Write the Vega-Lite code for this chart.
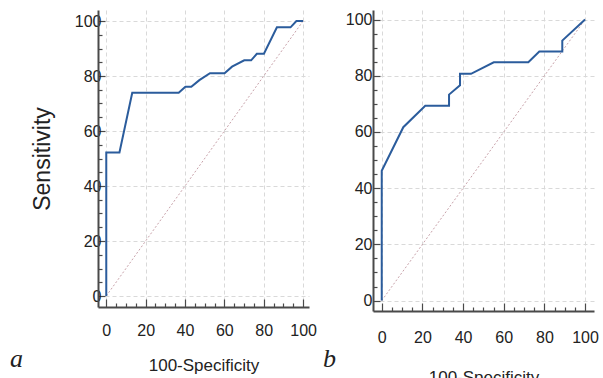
{
  "$schema": "https://vega.github.io/schema/vega-lite/v6.json",
  "background": "white",
  "padding": {"left": 10, "top": 10, "right": 0, "bottom": 0},
  "spacing": 6,
  "datasets": {
    "rocA": [
      {"i": 0, "x": 0, "y": 0}, {"i": 1, "x": 0, "y": 52.2}, {"i": 2, "x": 6.7, "y": 52.2},
      {"i": 3, "x": 13.2, "y": 73.9}, {"i": 4, "x": 36.8, "y": 73.9}, {"i": 5, "x": 40.2, "y": 76.1},
      {"i": 6, "x": 43.2, "y": 76.1}, {"i": 7, "x": 47.3, "y": 78.5}, {"i": 8, "x": 52.7, "y": 81.0},
      {"i": 9, "x": 60.1, "y": 81.0}, {"i": 10, "x": 63.9, "y": 83.4}, {"i": 11, "x": 70.1, "y": 85.7},
      {"i": 12, "x": 73.6, "y": 85.7}, {"i": 13, "x": 76.5, "y": 88.1}, {"i": 14, "x": 80.1, "y": 88.1},
      {"i": 15, "x": 86.7, "y": 97.7}, {"i": 16, "x": 93.6, "y": 97.7}, {"i": 17, "x": 96.6, "y": 100},
      {"i": 18, "x": 100, "y": 100}
    ],
    "rocB": [
      {"i": 0, "x": 0, "y": 0}, {"i": 1, "x": 0, "y": 46.2}, {"i": 2, "x": 10.6, "y": 61.7},
      {"i": 3, "x": 21.4, "y": 69.3}, {"i": 4, "x": 33.1, "y": 69.3}, {"i": 5, "x": 33.1, "y": 73.3},
      {"i": 6, "x": 38.5, "y": 76.6}, {"i": 7, "x": 38.5, "y": 80.7}, {"i": 8, "x": 43.9, "y": 80.7},
      {"i": 9, "x": 55.1, "y": 84.8}, {"i": 10, "x": 72.1, "y": 84.8}, {"i": 11, "x": 77.5, "y": 88.6},
      {"i": 12, "x": 88.8, "y": 88.6}, {"i": 13, "x": 88.8, "y": 92.5}, {"i": 14, "x": 100, "y": 100}
    ],
    "diag": [{"i": 0, "x": 0, "y": 0}, {"i": 1, "x": 100, "y": 100}]
  },
  "hconcat": [
    {
      "width": 211,
      "height": 297,
      "title": {"text": "a", "orient": "bottom", "anchor": "start", "frame": "group", "dx": -88, "offset": -27, "font": "Liberation Serif", "fontStyle": "italic", "fontWeight": "normal", "fontSize": 26, "color": "#222"},
      "encoding": {
        "x": {"field": "x", "type": "quantitative", "scale": {"domain": [-4.2, 103], "nice": false, "zero": false},
          "axis": {"title": "100-Specificity", "values": [0,5,10,15,20,25,30,35,40,45,50,55,60,65,70,75,80,85,90,95,100],
            "labelExpr": "datum.value % 20 === 0 ? datum.label : ''",
            "gridOpacity": {"condition": {"test": "datum.value % 20 === 0", "value": 1}, "value": 0},
            "tickSize": {"condition": {"test": "datum.value % 20 === 0", "value": -8}, "value": -4},
            "labelPadding": 23, "titlePadding": 15}},
        "y": {"field": "y", "type": "quantitative", "scale": {"domain": [-4, 104], "nice": false, "zero": false},
          "axis": {"title": "Sensitivity", "values": [0,5,10,15,20,25,30,35,40,45,50,55,60,65,70,75,80,85,90,95,100],
            "labelExpr": "datum.value % 20 === 0 ? datum.label : ''",
            "gridOpacity": {"condition": {"test": "datum.value % 20 === 0", "value": 1}, "value": 0},
            "tickSize": {"condition": {"test": "datum.value % 20 === 0", "value": -7}, "value": -4},
            "labelPadding": 4, "titlePadding": 20, "titleFont": "Liberation Sans", "titleFontSize": 23}},
        "order": {"field": "i", "type": "quantitative"}
      },
      "layer": [
        {"data": {"name": "diag"}, "mark": {"type": "line", "color": "#c9a3ab", "strokeWidth": 1, "strokeDash": [2, 2]}},
        {"data": {"name": "rocA"}, "mark": {"type": "line", "color": "#2b5c9c", "strokeWidth": 2}}
      ]
    },
    {
      "width": 221,
      "height": 301,
      "title": {"text": "b", "orient": "bottom", "anchor": "start", "frame": "group", "dx": -50, "offset": -39, "font": "Liberation Serif", "fontStyle": "italic", "fontWeight": "normal", "fontSize": 26, "color": "#222"},
      "encoding": {
        "x": {"field": "x", "type": "quantitative", "scale": {"domain": [-4.3, 104.4], "nice": false, "zero": false},
          "axis": {"title": "100-Specificity", "values": [0,5,10,15,20,25,30,35,40,45,50,55,60,65,70,75,80,85,90,95,100],
            "labelExpr": "datum.value % 20 === 0 ? datum.label : ''",
            "gridOpacity": {"condition": {"test": "datum.value % 20 === 0", "value": 1}, "value": 0},
            "tickSize": {"condition": {"test": "datum.value % 20 === 0", "value": -8}, "value": -4},
            "labelPadding": 26, "titlePadding": 20}},
        "y": {"field": "y", "type": "quantitative", "scale": {"domain": [-3.7, 103.4], "nice": false, "zero": false},
          "axis": {"title": null, "values": [0,5,10,15,20,25,30,35,40,45,50,55,60,65,70,75,80,85,90,95,100],
            "labelExpr": "datum.value % 20 === 0 ? datum.label : ''",
            "gridOpacity": {"condition": {"test": "datum.value % 20 === 0", "value": 1}, "value": 0},
            "tickSize": {"condition": {"test": "datum.value % 20 === 0", "value": -7}, "value": -4},
            "labelPadding": 8}},
        "order": {"field": "i", "type": "quantitative"}
      },
      "layer": [
        {"data": {"name": "diag"}, "mark": {"type": "line", "color": "#c9a3ab", "strokeWidth": 1, "strokeDash": [2, 2]}},
        {"data": {"name": "rocB"}, "mark": {"type": "line", "color": "#2b5c9c", "strokeWidth": 2}}
      ]
    }
  ],
  "config": {
    "view": {"stroke": null},
    "axis": {
      "domainColor": "#4a4a4a", "domainWidth": 2, "tickColor": "#4a4a4a", "tickWidth": 1.2,
      "grid": true, "gridColor": "#d9d9d9", "gridDash": [4, 3], "gridWidth": 1,
      "labelFont": "Liberation Sans", "labelFontSize": 16, "labelColor": "#222",
      "labelOverlap": false, "labelFlush": false, "labelBound": false,
      "titleFont": "Liberation Sans", "titleFontSize": 17, "titleFontWeight": "normal", "titleColor": "#222"
    }
  }
}
